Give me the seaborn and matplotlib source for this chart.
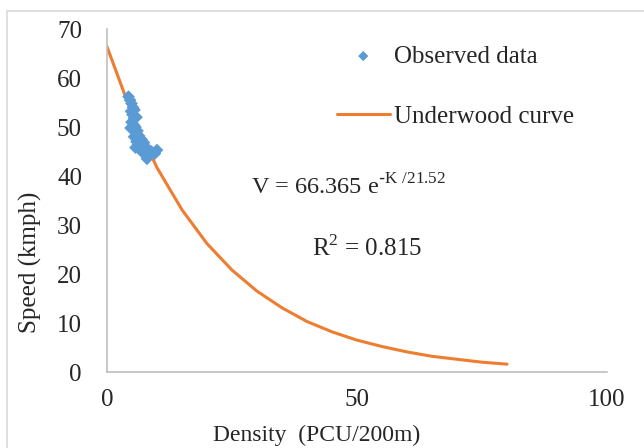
import numpy as np
import pandas as pd
import seaborn as sns
import matplotlib.pyplot as plt
from matplotlib.patches import Rectangle

obs_density = [4.3, 4.6, 4.9, 5.2, 4.8, 5.5, 5.1, 5.4, 4.9, 5.9, 5.3, 4.7, 5.7, 6.1, 5.4,
               6.4, 5.9, 6.9, 6.2, 7.4, 5.7, 6.7, 7.7, 7.9, 7.1, 8.9, 9.6, 10.0, 8.0, 6.4]
obs_speed = [56.2, 55.5, 54.8, 54.0, 53.2, 53.5, 52.5, 51.8, 51.0, 52.0, 50.5, 49.8, 50.0, 49.2, 48.0,
             48.2, 47.0, 47.5, 46.5, 46.8, 45.8, 45.5, 46.0, 45.2, 44.8, 45.0, 44.6, 45.3, 43.5, 46.0]

# Underwood curve points
curve_density = [0, 5, 10, 15, 20, 25, 30, 35, 40, 45, 50, 55, 60, 65, 70, 75, 80]
curve_speed = [66.4, 52.6, 41.7, 33.1, 26.2, 20.8, 16.5, 13.1, 10.3, 8.2, 6.5, 5.2, 4.1, 3.2, 2.6, 2.0, 1.6]

df_obs = pd.DataFrame({'density': obs_density, 'speed': obs_speed})
df_curve = pd.DataFrame({'density': curve_density, 'speed': curve_speed})

sns.set_style('white')
plt.rcParams['font.family'] = ['Liberation Serif', 'DejaVu Serif']
plt.rcParams['text.color'] = '#262626'

fig = plt.figure(figsize=(6.44, 4.48), dpi=100)
ax = fig.add_axes([107 / 644, 1 - 372 / 448, 500 / 644, 343 / 448])

sns.scatterplot(data=df_obs, x='density', y='speed', marker='D', s=42, color='#5B9BD5',
                edgecolor='none', label='Observed data', ax=ax, zorder=3)
sns.lineplot(data=df_curve, x='density', y='speed', color='#ED7D31', linewidth=2.2,
             label='Underwood curve', ax=ax, zorder=2)

ax.set_xlim(0, 100)
ax.set_ylim(0, 70)
ax.set_xticks([0, 50, 100])
ax.set_yticks(range(0, 71, 10))
ax.tick_params(axis='both', length=0, labelsize=18, colors='#262626')
ax.tick_params(axis='y', pad=18)
ax.tick_params(axis='x', pad=12)
for s in ['top', 'right']:
    ax.spines[s].set_visible(False)
for s in ['left', 'bottom']:
    ax.spines[s].set_color('#BFBFBF')
    ax.spines[s].set_linewidth(1.2)

ax.set_xlabel('Density  (PCU/200m)', fontsize=17)
ax.set_ylabel('Speed (kmph)', fontsize=18)
ax.xaxis.set_label_coords(0.42, -0.153)
ax.yaxis.set_label_coords(-0.13, 0.32)

ax.legend(loc='upper left', bbox_to_anchor=(0.46, 0.953), frameon=False, fontsize=18,
          labelspacing=1.5, handlelength=2.1, handletextpad=0.2, borderpad=0,
          borderaxespad=0, markerscale=0.8)

ax.text(0.484, 0.54, r'V = 66.365 e$^{\mathregular{\text{-}K\ /21.52}}$', transform=ax.transAxes,
        fontsize=17.5, ha='center', va='center')
ax.text(0.52, 0.362, r'R$^{\mathregular{2}}$ = 0.815', transform=ax.transAxes,
        fontsize=18, ha='center', va='center')

fig.patches.append(Rectangle((7 / 644, -0.1), 1.0, (448 - 11) / 448 + 0.1,
                             transform=fig.transFigure, fill=False,
                             edgecolor='#D9D9D9', linewidth=1.2))

fig.savefig('out.png', dpi=100)
